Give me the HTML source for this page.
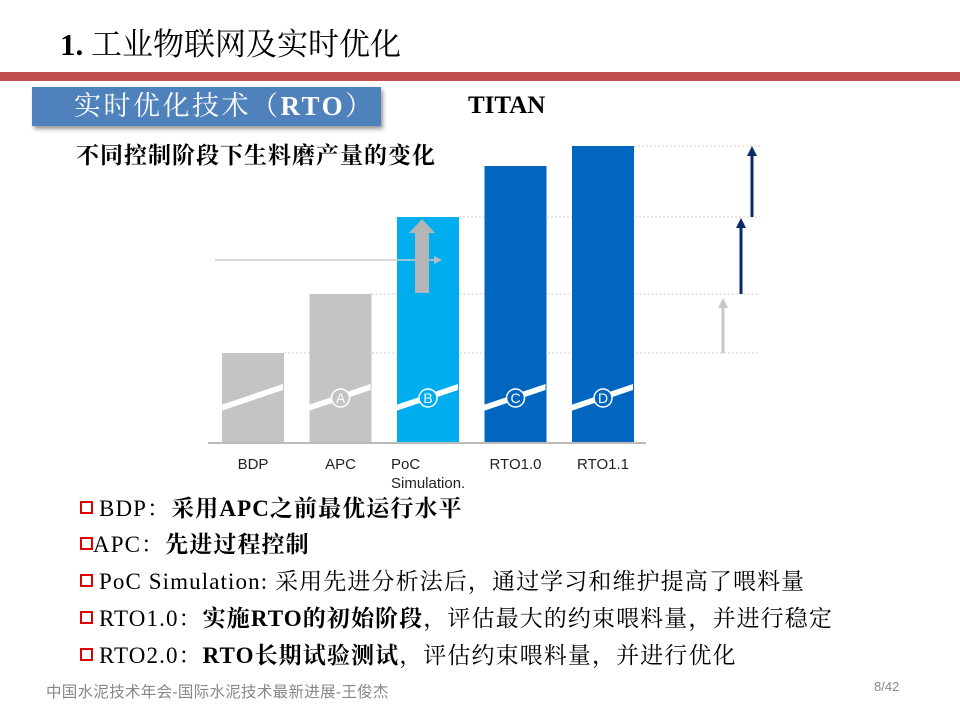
<!DOCTYPE html>
<html><head><meta charset="utf-8">
<style>
body{margin:0;width:960px;height:720px;background:#fff;position:relative;overflow:hidden;font-family:"Liberation Serif","Noto Serif CJK SC",serif;}
.abs{position:absolute;white-space:nowrap;}
.b{font-weight:bold}
.bul{position:absolute;left:80px;font-size:23px;line-height:28px;color:#000;white-space:nowrap;letter-spacing:1.1px;}
.sq{display:inline-block;width:9px;height:9px;border:2.5px solid #e00000;margin-right:6px;vertical-align:2px;}
</style></head><body>
<div class="abs" style="left:60px;top:26px;font-size:31px;line-height:38px;"><span class="b">1.</span> 工业物联网及实时优化</div>
<div class="abs" style="left:0;top:72px;width:960px;height:9px;background:#c0504d;"></div>
<div class="abs" style="left:32px;top:87px;width:349px;height:39px;background:#4f81bd;box-shadow:2px 3px 4px #999;color:#fff;font-size:27px;line-height:39px;text-indent:42px;letter-spacing:2.5px;">实时优化技术（<span class="b">RTO</span>）</div>
<div class="abs b" style="left:468px;top:92px;font-size:25px;">TITAN</div>
<div class="abs b" style="left:76px;top:142px;font-size:23px;line-height:28px;letter-spacing:1px;">不同控制阶段下生料磨产量的变化</div>
<svg class="abs" style="left:0;top:0" width="960" height="720" id="chart"></svg>
<div class="bul" style="top:495px;"><span class="sq"></span>BDP：<b>采用APC之前最优运行水平</b></div>
<div class="bul" style="top:531px;"><span class="sq" style="margin-right:0"></span>APC：<b>先进过程控制</b></div>
<div class="bul" style="top:568px;"><span class="sq"></span>PoC Simulation: 采用先进分析法后，通过学习和维护提高了喂料量</div>
<div class="bul" style="top:605px;"><span class="sq"></span>RTO1.0：<b>实施RTO的初始阶段</b>，评估最大的约束喂料量，并进行稳定</div>
<div class="bul" style="top:642px;"><span class="sq"></span>RTO2.0：<b>RTO长期试验测试</b>，评估约束喂料量，并进行优化</div>
<div class="abs" style="left:46px;top:680px;font-size:15.5px;letter-spacing:0.3px;color:#888;font-family:'Liberation Sans','Noto Sans CJK SC',sans-serif;">中国水泥技术年会-国际水泥技术最新进展-王俊杰</div>
<div class="abs" style="left:874px;top:679px;font-size:13px;color:#888;font-family:'Liberation Sans',sans-serif;">8/42</div>
<script>
const categories=["BDP","APC","PoC","RTO1.0","RTO1.1"];
const values=[90,149,226,277,297];
const badges=["","A","B","C","D"];
const colors=["#c4c4c4","#c4c4c4","#00aeef","#0066c0","#0066c0"];
const NS="http://www.w3.org/2000/svg";
const svg=document.getElementById('chart');
const base=443,x0=222,step=87.5,bw=62;
const y=v=>base-v;
const x=i=>x0+i*step;
function mk(t,a){const e=document.createElementNS(NS,t);for(const k in a)e.setAttribute(k,a[k]);svg.appendChild(e);return e;}
[0,1,2,4].forEach(i=>{const l=mk('line',{x1:x(i)+bw,x2:760,y1:y(values[i]),y2:y(values[i]),stroke:'#ccc','stroke-dasharray':'2,2'});
});
categories.forEach((c,i)=>{
 const r=mk('rect',{x:x(i),y:y(values[i]),width:bw,height:values[i],fill:colors[i]});
 
 
 const cx=x(i)+bw/2,cy=398;
 mk('polygon',{points:`${cx-38},${cy+9} ${cx+30},${cy-14} ${cx+30},${cy-8} ${cx-38},${cy+15}`,fill:'#fff'});
 if(badges[i]){const ci=mk('circle',{cx:cx,cy:cy,r:9,fill:colors[i],stroke:'#fff','stroke-width':1.5});
 
 const t=mk('text',{x:cx,y:cy+5,'text-anchor':'middle',fill:'#fff','font-size':14,'font-family':'Liberation Sans'});t.textContent=badges[i];}
 const lbl=i==2?"PoC":c;
 const t=mk('text',{x:i==2?x(i)-6:cx,y:469,'text-anchor':i==2?'start':'middle','font-size':15,fill:'#222','font-family':'Liberation Sans'});
 t.textContent=lbl;
});
const t2=mk('text',{x:x(2)-6,y:488,'font-size':15,fill:'#222','font-family':'Liberation Sans'});t2.textContent="Simulation.";
mk('line',{x1:208,x2:646,y1:base,y2:base,stroke:'#bbb','stroke-width':2});
mk('line',{x1:215,x2:436,y1:260,y2:260,stroke:'#ccc','stroke-width':1.5});
mk('polygon',{points:'442,260 434,256 434,264',fill:'#bbb'});
const px=x(2)+bw/2-6;
mk('rect',{x:px-7,y:y(values[2])+14,width:14,height:62,fill:'#b5b5b5'});
mk('polygon',{points:`${px-13},${y(values[2])+16} ${px+13},${y(values[2])+16} ${px},${y(values[2])+2}`,fill:'#b5b5b5'});
function arrow(ax,v1,v2,col,w){const l=mk('line',{x1:ax,x2:ax,y1:y(v1),y2:y(v2)+8,stroke:col,'stroke-width':w});

mk('polygon',{points:`${ax-5},${y(v2)+10} ${ax+5},${y(v2)+10} ${ax},${y(v2)}`,fill:col});}
arrow(723,values[0],values[1]-4,'#c8c8c8',3);
arrow(741,values[1],values[2]-1,'#0b2a66',3);
arrow(752,values[2],values[4],'#0b2a66',3);
</script>
</body></html>
